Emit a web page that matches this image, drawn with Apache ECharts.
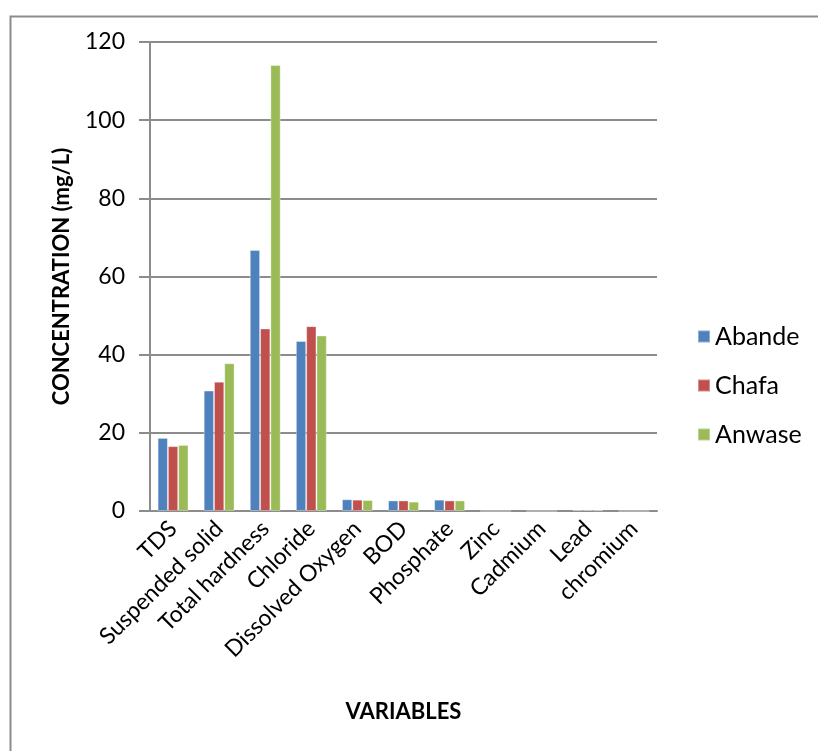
<!DOCTYPE html>
<html>
<head>
<meta charset="utf-8">
<script src="https://cdn.jsdelivr.net/npm/echarts@6/dist/echarts.min.js"></script>
<style>
  html, body { margin: 0; padding: 0; background: #fff; }
  #chart { width: 818px; height: 751px; }
</style>
</head>
<body>
<div id="chart"></div>
<script>
// Water quality variables measured at three sites
const categories = ['TDS', 'Suspended solid', 'Total hardness', 'Chloride', 'Dissolved Oxygen',
  'BOD', 'Phosphate', 'Zinc', 'Cadmium', 'Lead', 'chromium'];
const abande = [18.7, 30.8, 66.8, 43.5, 3.0, 2.7, 2.9, 0, 0, 0.3, 0];
const chafa  = [16.6, 33.1, 46.7, 47.3, 2.9, 2.7, 2.7, 0, 0, 0.3, 0];
const anwase = [16.9, 37.8, 114.1, 44.9, 2.8, 2.4, 2.7, 0, 0, 0.2, 0];
const yTicks = [0, 20, 40, 60, 80, 100, 120];

const FONT = 'Lato, "Open Sans", sans-serif';
const GRID_GREY = '#8c8c8c';

function barSeries(name, data, color) {
  return {
    name, type: 'bar', data,
    barGap: '0%', barCategoryGap: '33%',
    itemStyle: { color, borderColor: 'rgba(255,255,255,0.35)', borderWidth: 1 }
  };
}

const chart = echarts.init(document.getElementById('chart'));
chart.setOption({
  animation: false,
  backgroundColor: '#fff',
  textStyle: { fontFamily: FONT },
  graphic: [{
    type: 'rect', left: 8, top: 14,
    shape: { width: 830, height: 800 },
    style: { fill: 'none', stroke: '#8c8c8c', lineWidth: 2 },
    z: -1
  }],
  grid: { left: 150, top: 42, right: 161, bottom: 240, containLabel: false },
  legend: {
    orient: 'vertical', left: 692, top: 319,
    itemWidth: 12, itemHeight: 12, itemGap: 24,
    icon: 'rect',
    textStyle: { fontFamily: FONT, fontSize: 25, color: '#000' },
    data: ['Abande', 'Chafa', 'Anwase']
  },
  xAxis: {
    type: 'category', data: categories,
    name: 'VARIABLES', nameLocation: 'middle', nameGap: 190,
    nameTextStyle: { fontFamily: FONT, fontSize: 22, fontWeight: 'bold', color: '#000' },
    axisLine: { lineStyle: { color: GRID_GREY, width: 2 } },
    axisTick: { show: false },
    axisLabel: { rotate: 45, fontSize: 23, color: '#000', margin: 14, interval: 0, fontFamily: FONT }
  },
  yAxis: {
    type: 'value', min: yTicks[0], max: yTicks[yTicks.length - 1], interval: 20,
    name: 'CONCENTRATION (mg/L)', nameLocation: 'middle', nameGap: 77, nameRotate: 90,
    nameTextStyle: { fontFamily: FONT, fontSize: 22, fontWeight: 'bold', color: '#000' },
    axisLine: { show: true, lineStyle: { color: GRID_GREY, width: 2 } },
    axisTick: { show: true, length: 11, lineStyle: { color: GRID_GREY, width: 2 } },
    axisLabel: { fontSize: 23, color: '#000', margin: 25, fontFamily: FONT },
    splitLine: { lineStyle: { color: GRID_GREY, width: 2 } }
  },
  series: [
    barSeries('Abande', abande, '#4F81BD'),
    barSeries('Chafa', chafa, '#C0504D'),
    barSeries('Anwase', anwase, '#9BBB59')
  ]
});
</script>
</body>
</html>
